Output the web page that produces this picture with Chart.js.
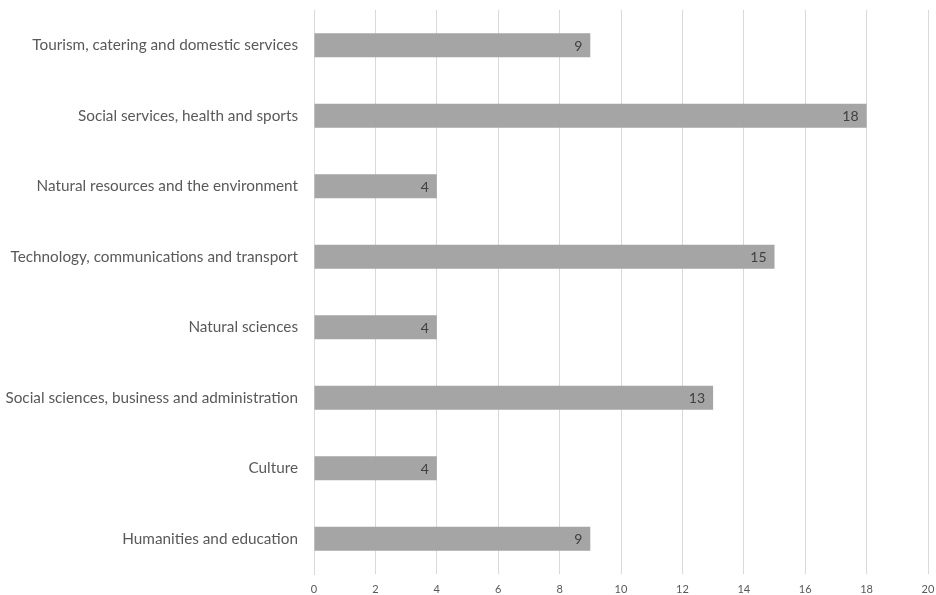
<!DOCTYPE html>
<html>
<head>
<meta charset="utf-8">
<script src="https://cdn.jsdelivr.net/npm/chart.js@4"></script>
<style>
html,body{margin:0;padding:0;background:#fff;}
#wrap{width:936px;height:595px;}
</style>
</head>
<body>
<div id="wrap"><canvas id="c" width="936" height="595"></canvas></div>
<script>
const categories = [
  "Tourism, catering and domestic services",
  "Social services, health and sports",
  "Natural resources and the environment",
  "Technology, communications and transport",
  "Natural sciences",
  "Social sciences, business and administration",
  "Culture",
  "Humanities and education"
];
const values = [9, 18, 4, 15, 4, 13, 4, 9];
const xMin = 0, xMax = 20, xStep = 2;

const FONT = "Lato, 'Open Sans', sans-serif";

const valueLabels = {
  id: 'valueLabels',
  afterDatasetsDraw(chart) {
    const ctx = chart.ctx;
    const meta = chart.getDatasetMeta(0);
    ctx.save();
    ctx.font = "14px " + FONT;
    ctx.fillStyle = "#404040";
    ctx.textAlign = "right";
    ctx.textBaseline = "middle";
    meta.data.forEach((bar, i) => {
      ctx.fillText(String(values[i]), bar.x - 8, bar.y + 1);
    });
    ctx.restore();
  }
};

new Chart(document.getElementById('c'), {
  type: 'bar',
  data: {
    labels: categories,
    datasets: [{
      data: values,
      backgroundColor: '#a5a5a5',
      borderWidth: 0,
      barPercentage: 0.34,
      categoryPercentage: 1.0
    }]
  },
  options: {
    indexAxis: 'y',
    responsive: false,
    animation: false,
    layout: { padding: { top: 10, right: 8, left: 0, bottom: 0 } },
    plugins: { legend: { display: false }, tooltip: { enabled: false } },
    scales: {
      x: {
        min: xMin, max: xMax,
        ticks: { stepSize: xStep, color: '#595959', font: { family: FONT, size: 11 }, padding: 9 },
        grid: { color: '#d9d9d9', drawTicks: false },
        border: { display: false },
        afterFit(scale) { scale.paddingRight = 0; scale.paddingLeft = 0; scale.height = 21; }
      },
      y: {
        ticks: { color: '#595959', font: { family: FONT, size: 15.3 }, padding: 16 },
        grid: { display: false, drawTicks: false },
        border: { display: true, color: '#d9d9d9' },
        afterFit(scale) { scale.paddingTop = 0; scale.paddingBottom = 0; scale.width = 314; }
      }
    }
  },
  plugins: [valueLabels]
});
</script>
</body>
</html>
